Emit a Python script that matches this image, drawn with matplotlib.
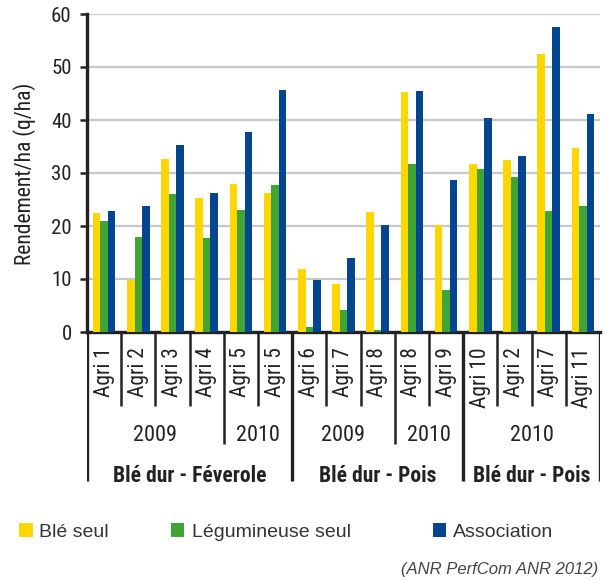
import matplotlib.pyplot as plt
from matplotlib.patches import Rectangle
import numpy as np

# yields in q/ha, one value per site
sites = ["Agri 1", "Agri 2", "Agri 3", "Agri 4", "Agri 5", "Agri 5",
         "Agri 6", "Agri 7", "Agri 8", "Agri 8", "Agri 9",
         "Agri 10", "Agri 2", "Agri 7", "Agri 11"]
ble_seul = [22.5, 9.9, 32.6, 25.2, 27.9, 26.3,
            11.8, 9.0, 22.6, 45.3, 20.1,
            31.7, 32.4, 52.5, 34.7]
legumineuse_seul = [20.9, 17.9, 26.0, 17.7, 23.1, 27.7,
                    1.0, 4.1, 0.3, 31.7, 7.9,
                    30.7, 29.2, 22.8, 23.7]
association = [22.8, 23.7, 35.3, 26.3, 37.8, 45.7,
               9.9, 13.9, 20.1, 45.5, 28.6,
               40.4, 33.2, 57.6, 41.1]

# year blocks and crop blocks: (label, first index, count)
years = [("2009", 0, 4), ("2010", 4, 2), ("2009", 6, 3), ("2010", 9, 2), ("2010", 11, 4)]
cultures = [("Blé dur - Féverole", 0, 6), ("Blé dur - Pois", 6, 5), ("Blé dur - Pois", 11, 4)]

series_names = ["Blé seul", "Légumineuse seul", "Association"]
colors = ["#ffd600", "#41a436", "#03458f"]

W, H = 611, 580
narrow = ["Roboto Condensed", "DejaVu Sans"]
dark = "#222222"

fig = plt.figure(figsize=(W / 100, H / 100), dpi=100)

# main plot area, pixel box converted to figure fractions
x0, x1, y_top, y_bot = 87, 600, 14, 332
ax = fig.add_axes([x0 / W, 1 - y_bot / H, (x1 - x0) / W, (y_bot - y_top) / H])

x = np.arange(len(sites))
bw = 0.221
for k, (vals, col) in enumerate(zip([ble_seul, legumineuse_seul, association], colors)):
    ax.bar(x + (k - 1) * bw, vals, width=bw, color=col, zorder=3)

ax.set_xlim(-0.5, len(sites) - 0.5)
ax.set_ylim(0, 60)
ax.set_yticks(np.arange(0, 61, 10))
ax.set_xticks([])
ax.grid(axis="y", color="#c8c8c8", linewidth=1.6, zorder=0)
ax.set_axisbelow(True)
for s in ["top", "right"]:
    ax.spines[s].set_visible(False)
ax.spines["left"].set_linewidth(2.4)
ax.spines["bottom"].set_linewidth(2.4)
ax.spines["left"].set_color(dark)
ax.spines["bottom"].set_color(dark)
ax.tick_params(axis="y", length=5, width=1.8, color=dark, pad=6,
               labelsize=15, labelcolor=dark)
for lab in ax.get_yticklabels():
    lab.set_family(narrow)

fig.text(25 / W, 1 - 174 / H, "Rendement/ha (q/ha)", rotation=90,
         ha="center", va="center", fontsize=15.5, color=dark, family=narrow)

# category table under the axis, y measured in pixels below the axis line
tab = fig.add_axes([x0 / W, 1 - 482 / H, (x1 - x0) / W, (482 - y_bot) / H])
tab.set_xlim(-0.5, len(sites) - 0.5)
tab.set_ylim(150, 0)
tab.axis("off")

edges = np.arange(len(sites) + 1) - 0.5
year_edges = {yr[1] for yr in years} | {len(sites)}
group_edges = {c[1] for c in cultures} | {len(sites)}
for i, e in enumerate(edges):
    if i in group_edges:
        tab.vlines(e, 0, 149, color=dark, linewidth=2.4)
    elif i in year_edges:
        tab.vlines(e, 0, 112, color=dark, linewidth=1.8)
    else:
        tab.vlines(e, 0, 74, color=dark, linewidth=1.8)

for xi, name in zip(x, sites):
    tab.text(xi, 15, name, rotation=90, ha="center", va="top",
             fontsize=15.5, color=dark, family=narrow)

for label, start, n in years:
    tab.text(start + (n - 1) / 2, 109, label, ha="center", va="baseline",
             fontsize=16, color=dark, family=narrow)

for label, start, n in cultures:
    tab.text(start + (n - 1) / 2, 149.5, label, ha="center", va="baseline",
             fontsize=15.5, fontweight="bold", color=dark, family=narrow)

# legend row
legend_pos = [(19, 39.3), (170.7, 191.7), (432.7, 453)]
for (sq_x, tx), name, col in zip(legend_pos, series_names, colors):
    fig.add_artist(Rectangle((sq_x / W, 1 - 537.3 / H), 13.7 / W, 14 / H,
                             transform=fig.transFigure, color=col, lw=0))
    fig.text(tx / W, 1 - 537 / H, name, ha="left", va="baseline",
             fontsize=14, color="#333333", family="Liberation Sans")

fig.text(598.3 / W, 1 - 574.3 / H, "(ANR PerfCom ANR 2012)", ha="right",
         va="baseline", fontsize=12, style="italic", color="#444444",
         family="Liberation Sans")

fig.savefig("out.png", dpi=100)
